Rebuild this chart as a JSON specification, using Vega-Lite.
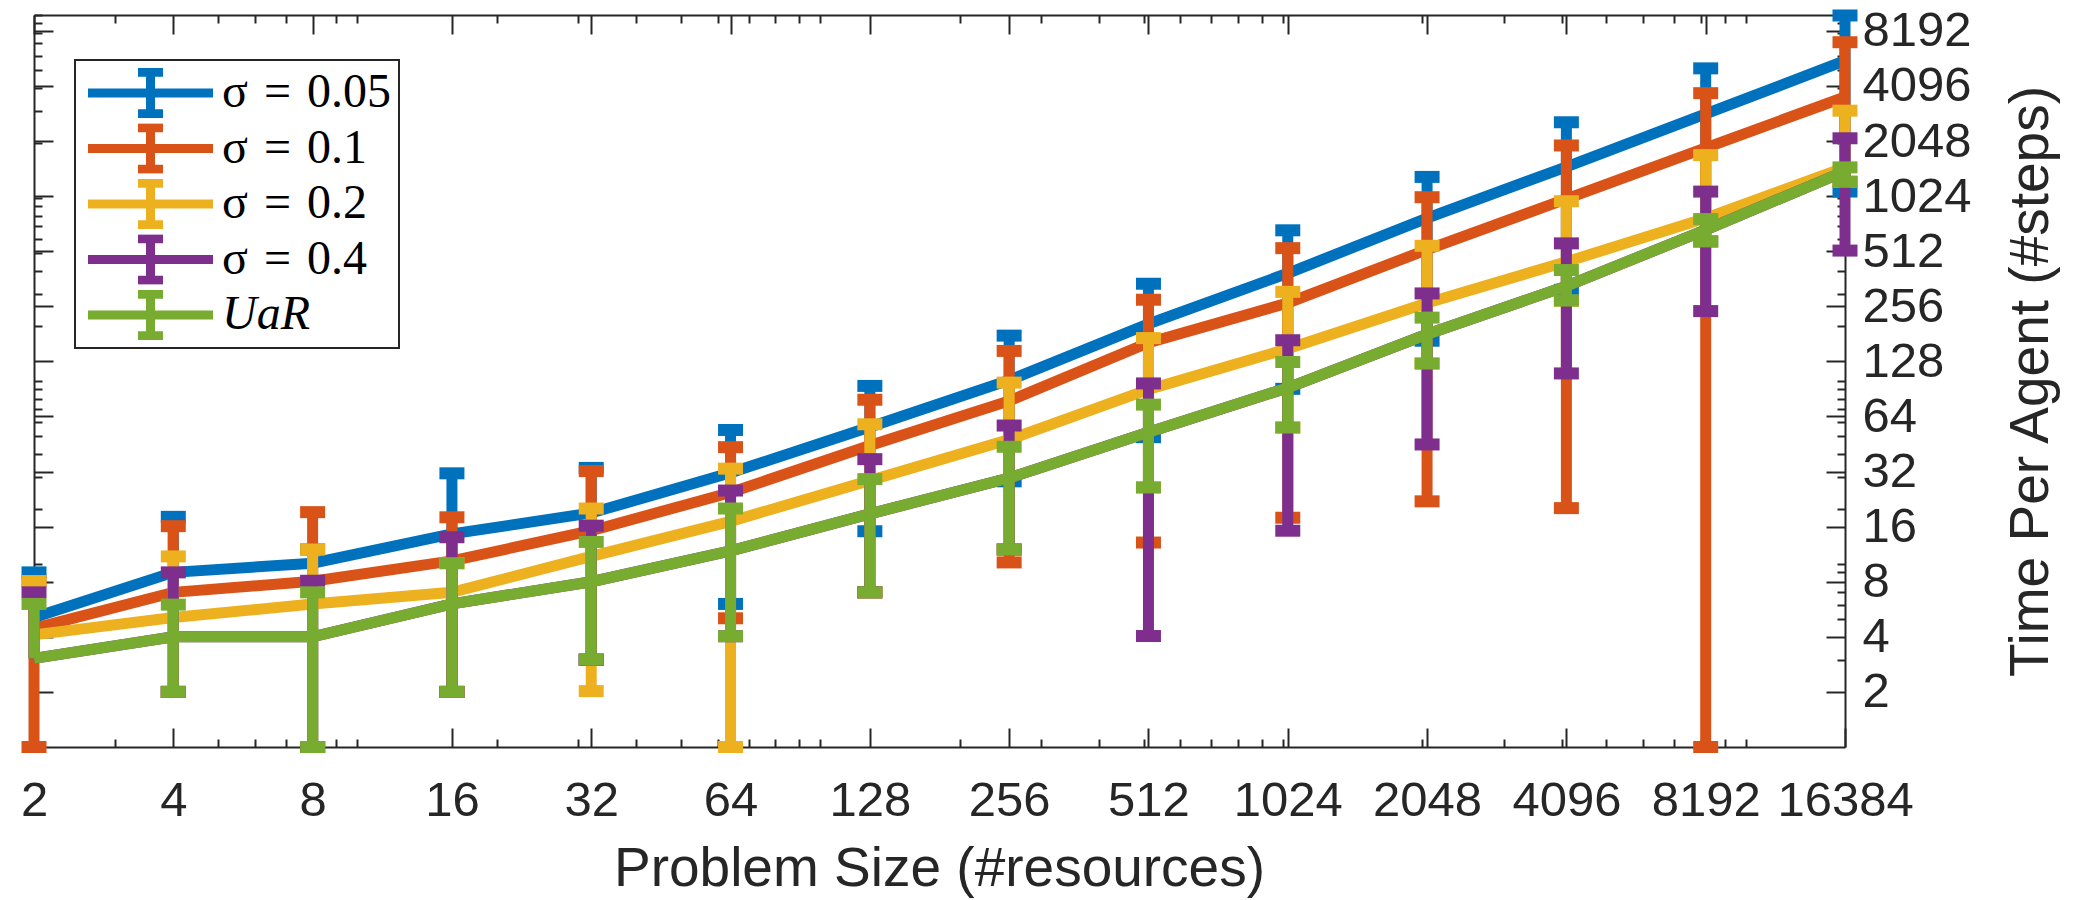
{
  "$schema": "https://vega.github.io/schema/vega-lite/v6.json",
  "width": 1811,
  "height": 732,
  "autosize": {"type": "none"},
  "padding": {"left": 34, "top": 15, "right": 255, "bottom": 153},
  "background": "#ffffff",
  "config": {"view": {"stroke": null}},
  "data": {"values": [
    {"s": "σ = 0.05", "x": 2, "m": 5.1, "lo": 5.1, "hi": 9.0},
    {"s": "σ = 0.05", "x": 4, "m": 9.0, "lo": 2.0, "hi": 18.1},
    {"s": "σ = 0.05", "x": 8, "m": 10.1, "lo": 1, "hi": 12},
    {"s": "σ = 0.05", "x": 16, "m": 14.6, "lo": 2.0, "hi": 31.3},
    {"s": "σ = 0.05", "x": 32, "m": 19, "lo": 3.0, "hi": 33.5},
    {"s": "σ = 0.05", "x": 64, "m": 31.5, "lo": 6.05, "hi": 54},
    {"s": "σ = 0.05", "x": 128, "m": 56, "lo": 15.1, "hi": 94},
    {"s": "σ = 0.05", "x": 256, "m": 101, "lo": 28.3, "hi": 177},
    {"s": "σ = 0.05", "x": 512, "m": 205, "lo": 49.3, "hi": 340},
    {"s": "σ = 0.05", "x": 1024, "m": 388, "lo": 90.6, "hi": 666},
    {"s": "σ = 0.05", "x": 2048, "m": 776, "lo": 166, "hi": 1304},
    {"s": "σ = 0.05", "x": 4096, "m": 1480, "lo": 315, "hi": 2593},
    {"s": "σ = 0.05", "x": 8192, "m": 2880, "lo": 579, "hi": 5110},
    {"s": "σ = 0.05", "x": 16384, "m": 5630, "lo": 1085, "hi": 9940},
    {"s": "σ = 0.1", "x": 2, "m": 4.45, "lo": 1, "hi": 8.07},
    {"s": "σ = 0.1", "x": 4, "m": 7.0, "lo": 2.0, "hi": 16.1},
    {"s": "σ = 0.1", "x": 8, "m": 8.05, "lo": 1, "hi": 19.2},
    {"s": "σ = 0.1", "x": 16, "m": 10.4, "lo": 2.0, "hi": 18},
    {"s": "σ = 0.1", "x": 32, "m": 15.2, "lo": 3.0, "hi": 32.2},
    {"s": "σ = 0.1", "x": 64, "m": 24.6, "lo": 5.05, "hi": 43.5},
    {"s": "σ = 0.1", "x": 128, "m": 44.4, "lo": 7.0, "hi": 79},
    {"s": "σ = 0.1", "x": 256, "m": 77.8, "lo": 10.2, "hi": 146},
    {"s": "σ = 0.1", "x": 512, "m": 162, "lo": 13.1, "hi": 278},
    {"s": "σ = 0.1", "x": 1024, "m": 267, "lo": 17.9, "hi": 532},
    {"s": "σ = 0.1", "x": 2048, "m": 522, "lo": 22, "hi": 1010},
    {"s": "σ = 0.1", "x": 4096, "m": 990, "lo": 20.2, "hi": 1937},
    {"s": "σ = 0.1", "x": 8192, "m": 1878, "lo": 1, "hi": 3740},
    {"s": "σ = 0.1", "x": 16384, "m": 3565, "lo": 1226, "hi": 7100},
    {"s": "σ = 0.2", "x": 2, "m": 4.1, "lo": 4.1, "hi": 8.07},
    {"s": "σ = 0.2", "x": 4, "m": 5.1, "lo": 2.0, "hi": 11},
    {"s": "σ = 0.2", "x": 8, "m": 6.05, "lo": 1, "hi": 12},
    {"s": "σ = 0.2", "x": 16, "m": 7.0, "lo": 2.0, "hi": 10.1},
    {"s": "σ = 0.2", "x": 32, "m": 11, "lo": 2.02, "hi": 20.1},
    {"s": "σ = 0.2", "x": 64, "m": 17.1, "lo": 1, "hi": 33.2},
    {"s": "σ = 0.2", "x": 128, "m": 28.6, "lo": 7.0, "hi": 58},
    {"s": "σ = 0.2", "x": 256, "m": 47.9, "lo": 12.0, "hi": 98},
    {"s": "σ = 0.2", "x": 512, "m": 90, "lo": 26.2, "hi": 171.6},
    {"s": "σ = 0.2", "x": 1024, "m": 150, "lo": 55.7, "hi": 307},
    {"s": "σ = 0.2", "x": 2048, "m": 267, "lo": 124.6, "hi": 548},
    {"s": "σ = 0.2", "x": 4096, "m": 448, "lo": 275, "hi": 960},
    {"s": "σ = 0.2", "x": 8192, "m": 776, "lo": 579, "hi": 1715},
    {"s": "σ = 0.2", "x": 16384, "m": 1470, "lo": 1226, "hi": 3000},
    {"s": "σ = 0.4", "x": 2, "m": 3.05, "lo": 3.05, "hi": 7.0},
    {"s": "σ = 0.4", "x": 4, "m": 4.0, "lo": 2.0, "hi": 9.0},
    {"s": "σ = 0.4", "x": 8, "m": 4.0, "lo": 1, "hi": 8.1},
    {"s": "σ = 0.4", "x": 16, "m": 6.05, "lo": 2.0, "hi": 14},
    {"s": "σ = 0.4", "x": 32, "m": 8.0, "lo": 3.0, "hi": 16.2},
    {"s": "σ = 0.4", "x": 64, "m": 11.8, "lo": 4.03, "hi": 25.2},
    {"s": "σ = 0.4", "x": 128, "m": 18.8, "lo": 7.0, "hi": 37.4},
    {"s": "σ = 0.4", "x": 256, "m": 29.5, "lo": 12.0, "hi": 57.1},
    {"s": "σ = 0.4", "x": 512, "m": 52.5, "lo": 4.04, "hi": 97},
    {"s": "σ = 0.4", "x": 1024, "m": 91.8, "lo": 15.2, "hi": 167},
    {"s": "σ = 0.4", "x": 2048, "m": 180, "lo": 45, "hi": 301},
    {"s": "σ = 0.4", "x": 4096, "m": 330, "lo": 110, "hi": 565},
    {"s": "σ = 0.4", "x": 8192, "m": 670, "lo": 241, "hi": 1084},
    {"s": "σ = 0.4", "x": 16384, "m": 1400, "lo": 516, "hi": 2120},
    {"s": "UaR", "x": 2, "m": 3.05, "lo": 3.05, "hi": 6.05},
    {"s": "UaR", "x": 4, "m": 4.0, "lo": 2.0, "hi": 6.0},
    {"s": "UaR", "x": 8, "m": 4.0, "lo": 1, "hi": 7.0},
    {"s": "UaR", "x": 16, "m": 6.05, "lo": 2.0, "hi": 10.1},
    {"s": "UaR", "x": 32, "m": 8.0, "lo": 3.0, "hi": 13.2},
    {"s": "UaR", "x": 64, "m": 11.8, "lo": 4.03, "hi": 20.1},
    {"s": "UaR", "x": 128, "m": 18.8, "lo": 7.0, "hi": 29.1},
    {"s": "UaR", "x": 256, "m": 29.5, "lo": 12.0, "hi": 43.7},
    {"s": "UaR", "x": 512, "m": 52.5, "lo": 26.2, "hi": 74.3},
    {"s": "UaR", "x": 1024, "m": 91.8, "lo": 55.7, "hi": 127},
    {"s": "UaR", "x": 2048, "m": 180, "lo": 124.6, "hi": 222},
    {"s": "UaR", "x": 4096, "m": 330, "lo": 275, "hi": 404},
    {"s": "UaR", "x": 8192, "m": 670, "lo": 579, "hi": 767},
    {"s": "UaR", "x": 16384, "m": 1400, "lo": 1226, "hi": 1470}
  ]},
  "layer": [
    {
      "mark": {"type": "point", "opacity": 0},
      "encoding": {
        "x": {"field": "x", "type": "quantitative",
          "scale": {"type": "log", "base": 2, "domain": [2, 16384], "nice": false},
          "axis": {"orient": "top", "grid": false, "labels": false, "title": null,
            "values": [2,3,4,5,6,7,8,9,10,16,20,30,32,40,50,60,64,70,80,90,100,128,200,256,300,400,500,512,600,700,800,900,1000,1024,2000,2048,3000,4000,4096,5000,6000,7000,8000,8192,9000,10000,16384],
            "tickSize": {"condition": {"test": "abs(log(datum.value)/log(2) - round(log(datum.value)/log(2))) < 0.000001", "value": -19}, "value": -8},
            "tickWidth": 2, "tickColor": "#262626", "domainColor": "#262626", "domainWidth": 2}},
        "y": {"field": "m", "type": "quantitative",
          "scale": {"type": "log", "base": 2, "domain": [1, 10000], "nice": false},
          "axis": {"orient": "right", "grid": false,
            "values": [2,3,4,5,6,7,8,9,10,16,20,30,32,40,50,60,64,70,80,90,100,128,200,256,300,400,500,512,600,700,800,900,1000,1024,2000,2048,3000,4000,4096,5000,6000,7000,8000,8192,9000,10000],
            "labelExpr": "abs(log(datum.value)/log(2) - round(log(datum.value)/log(2))) < 0.000001 ? format(datum.value, 'd') : ''",
            "labelFont": "Liberation Sans", "labelFontSize": 49, "labelColor": "#262626", "labelPadding": 36,
            "labelAlign": "left", "labelBaseline": "middle", "labelOverlap": false, "labelFlush": false, "labelBound": false,
            "tickSize": {"condition": {"test": "abs(log(datum.value)/log(2) - round(log(datum.value)/log(2))) < 0.000001", "value": -19}, "value": -8},
            "tickWidth": 2, "tickColor": "#262626", "domainColor": "#262626", "domainWidth": 2,
            "title": "Time Per Agent (#steps)", "titleFont": "Liberation Sans", "titleFontSize": 55, "titleFontWeight": "normal",
            "titleColor": "#262626", "titleAngle": 270, "titleAlign": "center", "titleBaseline": "alphabetic", "titleX": 202, "titleY": 366}}
      }
    },
    {
      "mark": {"type": "point", "opacity": 0},
      "encoding": {
        "x": {"field": "x", "type": "quantitative",
          "scale": {"type": "log", "base": 2, "domain": [2, 16384], "nice": false}, "axis": null},
        "y": {"field": "m", "type": "quantitative",
          "scale": {"type": "log", "base": 2, "domain": [1, 10000], "nice": false},
          "axis": {"orient": "left", "grid": false, "labels": false, "title": null,
            "values": [2,3,4,5,6,7,8,9,10,16,20,30,32,40,50,60,64,70,80,90,100,128,200,256,300,400,500,512,600,700,800,900,1000,1024,2000,2048,3000,4000,4096,5000,6000,7000,8000,8192,9000,10000],
            "tickSize": {"condition": {"test": "abs(log(datum.value)/log(2) - round(log(datum.value)/log(2))) < 0.000001", "value": -19}, "value": -8},
            "tickWidth": 2, "tickColor": "#262626", "domainColor": "#262626", "domainWidth": 2}}
      }
    },
    {
      "encoding": {
        "x": {"field": "x", "type": "quantitative",
          "scale": {"type": "log", "base": 2, "domain": [2, 16384], "nice": false},
          "axis": {"orient": "bottom", "grid": false,
            "values": [2,3,4,5,6,7,8,9,10,16,20,30,32,40,50,60,64,70,80,90,100,128,200,256,300,400,500,512,600,700,800,900,1000,1024,2000,2048,3000,4000,4096,5000,6000,7000,8000,8192,9000,10000,16384],
            "labelExpr": "abs(log(datum.value)/log(2) - round(log(datum.value)/log(2))) < 0.000001 ? format(datum.value, 'd') : ''",
            "labelFont": "Liberation Sans", "labelFontSize": 49, "labelColor": "#262626", "labelPadding": 48,
            "labelBaseline": "top", "labelOverlap": false, "labelFlush": false, "labelBound": false,
            "tickSize": {"condition": {"test": "abs(log(datum.value)/log(2) - round(log(datum.value)/log(2))) < 0.000001", "value": -19}, "value": -8},
            "tickWidth": 2, "tickColor": "#262626", "domainColor": "#262626", "domainWidth": 2,
            "title": "Problem Size (#resources)", "titleFont": "Liberation Sans", "titleFontSize": 55, "titleFontWeight": "normal",
            "titleColor": "#262626", "titleBaseline": "alphabetic", "titleX": 905, "titleY": 138}},
        "color": {"field": "s", "type": "nominal",
          "scale": {"domain": ["σ = 0.05", "σ = 0.1", "σ = 0.2", "σ = 0.4", "UaR"], "range": ["#0072BD", "#D95319", "#EDB120", "#7E2F8E", "#77AC30"]},
          "legend": {"orient": "none", "legendX": 41, "legendY": 45, "title": null, "direction": "vertical",
            "strokeColor": "#262626", "fillColor": "#ffffff", "padding": 8, "rowPadding": 5.5, "clipHeight": 50,
            "symbolType": "M-2.5,0H2.5M0,-0.83V0.83M-0.5,-0.83H0.5M-0.5,0.83H0.5", "symbolSize": 2500, "symbolStrokeWidth": 9,
            "symbolOffset": 38, "labelOffset": 42,
            "labelExpr": "replace(datum.label, ' = ', '\u2004=\u2004')",
            "labelFont": "Liberation Serif", "labelFontSize": 48, "labelColor": "#000000", "labelLimit": 0,
            "encode": {
              "legend": {"update": {"strokeWidth": {"value": 2}}},
              "symbols": {"update": {"stroke": {"scale": "color", "field": "value"}, "fill": {"value": "transparent"}, "strokeWidth": {"value": 9}, "opacity": {"value": 1}}},
              "labels": {"update": {"fontStyle": {"signal": "datum.value == 'UaR' ? 'italic' : 'normal'"}}}
            }}}
      },
      "layer": [
        {
          "transform": [{"filter": "datum.s == 'σ = 0.05'"}],
          "layer": [
            {"mark": {"type": "line", "strokeWidth": 11},
             "encoding": {"y": {"field": "m", "type": "quantitative", "scale": {"type": "log", "base": 2, "domain": [1, 10000], "nice": false}, "axis": null}}},
            {"mark": {"type": "rule", "strokeWidth": 11},
             "encoding": {"y": {"field": "lo", "type": "quantitative", "scale": {"type": "log", "base": 2, "domain": [1, 10000], "nice": false}, "axis": null}, "y2": {"field": "hi"}}},
            {"transform": [{"fold": ["lo", "hi"], "as": ["k", "v"]}, {"filter": "datum.k == 'hi' || datum.lo < datum.m"}],
             "mark": {"type": "tick", "orient": "horizontal", "size": 25, "thickness": 12, "opacity": 1},
             "encoding": {"y": {"field": "v", "type": "quantitative", "scale": {"type": "log", "base": 2, "domain": [1, 10000], "nice": false}, "axis": null}}}
          ]
        },
        {
          "transform": [{"filter": "datum.s == 'σ = 0.1'"}],
          "layer": [
            {"mark": {"type": "line", "strokeWidth": 11},
             "encoding": {"y": {"field": "m", "type": "quantitative", "scale": {"type": "log", "base": 2, "domain": [1, 10000], "nice": false}, "axis": null}}},
            {"mark": {"type": "rule", "strokeWidth": 11},
             "encoding": {"y": {"field": "lo", "type": "quantitative", "scale": {"type": "log", "base": 2, "domain": [1, 10000], "nice": false}, "axis": null}, "y2": {"field": "hi"}}},
            {"transform": [{"fold": ["lo", "hi"], "as": ["k", "v"]}, {"filter": "datum.k == 'hi' || datum.lo < datum.m"}],
             "mark": {"type": "tick", "orient": "horizontal", "size": 25, "thickness": 12, "opacity": 1},
             "encoding": {"y": {"field": "v", "type": "quantitative", "scale": {"type": "log", "base": 2, "domain": [1, 10000], "nice": false}, "axis": null}}}
          ]
        },
        {
          "transform": [{"filter": "datum.s == 'σ = 0.2'"}],
          "layer": [
            {"mark": {"type": "line", "strokeWidth": 11},
             "encoding": {"y": {"field": "m", "type": "quantitative", "scale": {"type": "log", "base": 2, "domain": [1, 10000], "nice": false}, "axis": null}}},
            {"mark": {"type": "rule", "strokeWidth": 11},
             "encoding": {"y": {"field": "lo", "type": "quantitative", "scale": {"type": "log", "base": 2, "domain": [1, 10000], "nice": false}, "axis": null}, "y2": {"field": "hi"}}},
            {"transform": [{"fold": ["lo", "hi"], "as": ["k", "v"]}, {"filter": "datum.k == 'hi' || datum.lo < datum.m"}],
             "mark": {"type": "tick", "orient": "horizontal", "size": 25, "thickness": 12, "opacity": 1},
             "encoding": {"y": {"field": "v", "type": "quantitative", "scale": {"type": "log", "base": 2, "domain": [1, 10000], "nice": false}, "axis": null}}}
          ]
        },
        {
          "transform": [{"filter": "datum.s == 'σ = 0.4'"}],
          "layer": [
            {"mark": {"type": "line", "strokeWidth": 11},
             "encoding": {"y": {"field": "m", "type": "quantitative", "scale": {"type": "log", "base": 2, "domain": [1, 10000], "nice": false}, "axis": null}}},
            {"mark": {"type": "rule", "strokeWidth": 11},
             "encoding": {"y": {"field": "lo", "type": "quantitative", "scale": {"type": "log", "base": 2, "domain": [1, 10000], "nice": false}, "axis": null}, "y2": {"field": "hi"}}},
            {"transform": [{"fold": ["lo", "hi"], "as": ["k", "v"]}, {"filter": "datum.k == 'hi' || datum.lo < datum.m"}],
             "mark": {"type": "tick", "orient": "horizontal", "size": 25, "thickness": 12, "opacity": 1},
             "encoding": {"y": {"field": "v", "type": "quantitative", "scale": {"type": "log", "base": 2, "domain": [1, 10000], "nice": false}, "axis": null}}}
          ]
        },
        {
          "transform": [{"filter": "datum.s == 'UaR'"}],
          "layer": [
            {"mark": {"type": "line", "strokeWidth": 11},
             "encoding": {"y": {"field": "m", "type": "quantitative", "scale": {"type": "log", "base": 2, "domain": [1, 10000], "nice": false}, "axis": null}}},
            {"mark": {"type": "rule", "strokeWidth": 11},
             "encoding": {"y": {"field": "lo", "type": "quantitative", "scale": {"type": "log", "base": 2, "domain": [1, 10000], "nice": false}, "axis": null}, "y2": {"field": "hi"}}},
            {"transform": [{"fold": ["lo", "hi"], "as": ["k", "v"]}, {"filter": "datum.k == 'hi' || datum.lo < datum.m"}],
             "mark": {"type": "tick", "orient": "horizontal", "size": 25, "thickness": 12, "opacity": 1},
             "encoding": {"y": {"field": "v", "type": "quantitative", "scale": {"type": "log", "base": 2, "domain": [1, 10000], "nice": false}, "axis": null}}}
          ]
        }
      ]
    }
  ],
  "resolve": {"axis": {"x": "independent", "y": "independent"}}
}
